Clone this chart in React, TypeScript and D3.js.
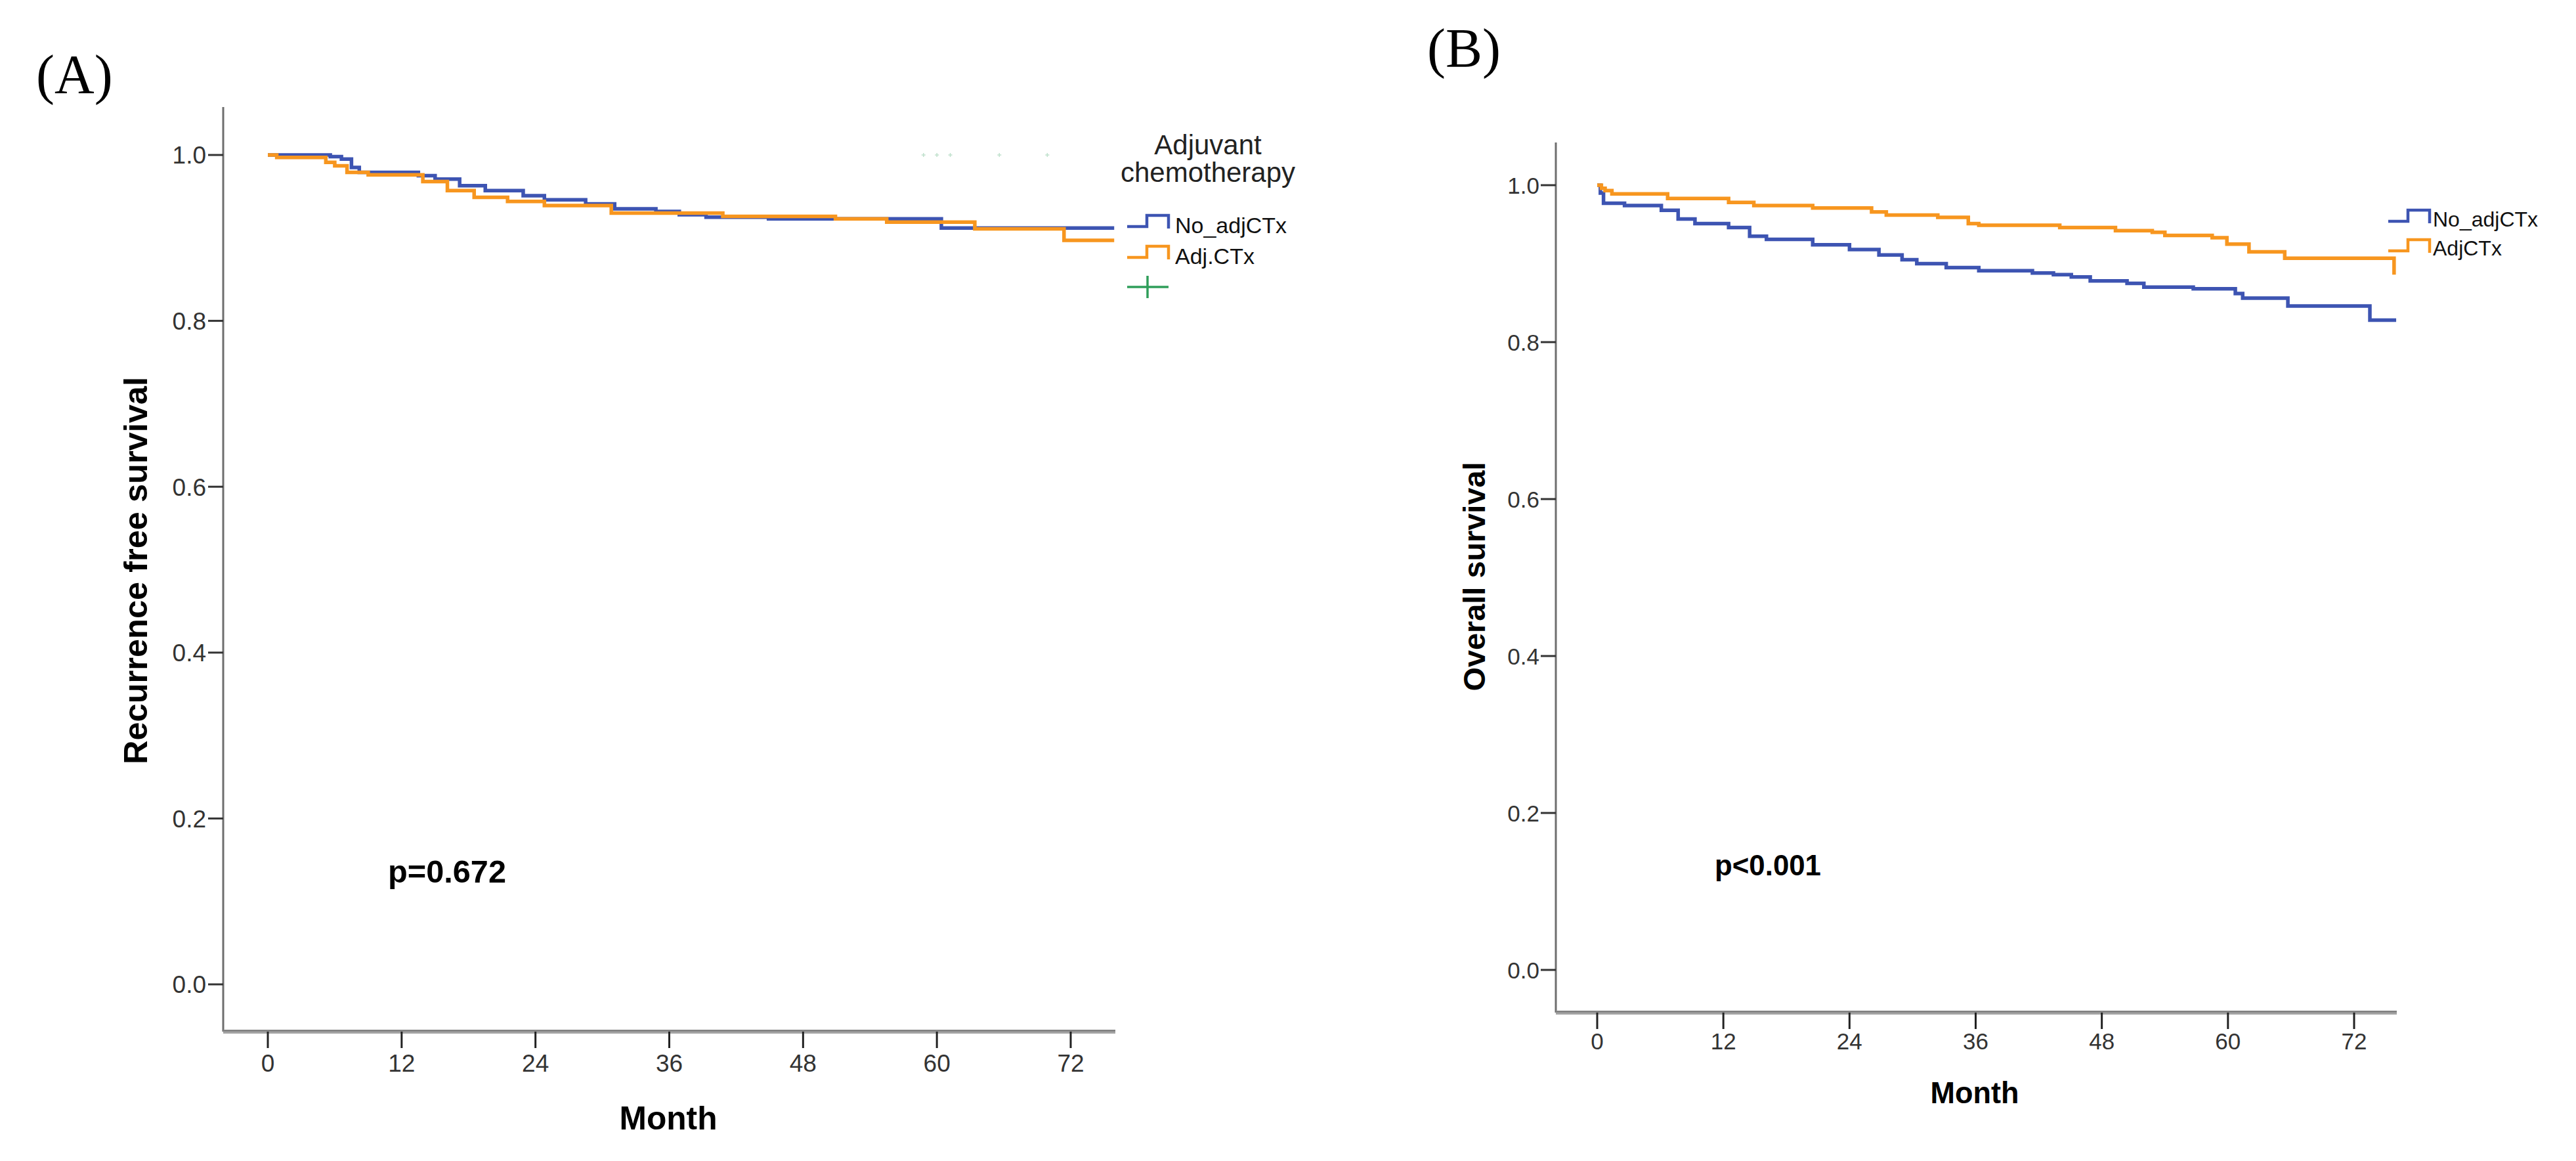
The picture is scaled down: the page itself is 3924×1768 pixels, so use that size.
import React from "react";
import * as d3 from "d3";

// ---------- data ----------
const monthTicks = [0, 12, 24, 36, 48, 60, 72];
const survTicks = [0, 0.2, 0.4, 0.6, 0.8, 1.0];
const groupLabelsA = ["No_adjCTx", "Adj.CTx"];
const groupLabelsB = ["No_adjCTx", "AdjCTx"];
const legendTitleA = ["Adjuvant", "chemotherapy"];

// Panel A: recurrence free survival, [month, survival] step points
const rfsNoAdj: [number, number][] = [
  [0, 1.0], [5.6, 0.998], [6.6, 0.995], [7.5, 0.985], [8.2, 0.979], [13.5, 0.975],
  [15.0, 0.971], [17.2, 0.963], [19.5, 0.957], [22.9, 0.951], [24.8, 0.946],
  [28.5, 0.941], [31.1, 0.935], [34.8, 0.932], [36.9, 0.928], [39.3, 0.925],
  [44.9, 0.923], [60.4, 0.912],
];
const rfsNoAdjEnd = 75.9;
const rfsAdj: [number, number][] = [
  [0, 1.0], [0.8, 0.997], [5.2, 0.991], [6.0, 0.987], [7.1, 0.979], [9.0, 0.976],
  [13.9, 0.968], [16.1, 0.957], [18.5, 0.949], [21.5, 0.944], [24.8, 0.939],
  [30.8, 0.93], [40.8, 0.926], [50.9, 0.923], [55.5, 0.919], [63.4, 0.911],
  [71.4, 0.897],
];
const rfsAdjEnd = 75.9;
const rfsCensorFaint = [58.8, 60.0, 61.2, 65.6, 69.9];

// Panel B: overall survival
const osNoAdj: [number, number][] = [
  [0, 1.0], [0.3, 0.99], [0.6, 0.977], [2.6, 0.974], [6.1, 0.968], [7.7, 0.957],
  [9.3, 0.951], [12.5, 0.946], [14.5, 0.935], [16.1, 0.931], [20.5, 0.924],
  [24.0, 0.918], [26.8, 0.911], [29.0, 0.905], [30.4, 0.9], [33.2, 0.895],
  [36.3, 0.891], [41.4, 0.888], [43.4, 0.886], [45.1, 0.883], [46.9, 0.878],
  [50.4, 0.875], [52.0, 0.87], [56.7, 0.868], [60.7, 0.862], [61.4, 0.856],
  [65.7, 0.846], [73.5, 0.828],
];
const osNoAdjEnd = 76.0;
const osAdj: [number, number][] = [
  [0, 1.0], [0.4, 0.996], [0.75, 0.993], [1.4, 0.989], [6.7, 0.983], [12.5, 0.978],
  [14.9, 0.974], [20.5, 0.971], [26.1, 0.966], [27.5, 0.962], [32.4, 0.959],
  [35.3, 0.951], [36.3, 0.949], [44.0, 0.946], [49.3, 0.942], [52.8, 0.94],
  [54.0, 0.936], [58.5, 0.933], [59.9, 0.925], [62.0, 0.915], [65.4, 0.907],
  [75.8, 0.886],
];
const osAdjEnd = 75.8;

// ---------- styles ----------
const BLUE = "#3d54b2";
const ORANGE = "#f7961f";
const GREEN = "#2f9e5a";
const SANS = "'Liberation Sans', Arial, Helvetica, sans-serif";
const SERIF = "'Liberation Serif', 'Times New Roman', serif";

function withEnd(pts: [number, number][], end: number): [number, number][] {
  const last = pts[pts.length - 1];
  return end > last[0] ? [...pts, [end, last[1]]] : pts;
}

type PanelProps = {
  x0: number; x72: number; y0: number; y1: number;
  axisTop: number; xAxisY: number; axisLeft: number; axisRight: number;
  tickFs: number; tickLen: number; xLabelBaseline: number; yLabelX: number;
  yTitle: string; yTitleX: number; yTitleY: number; yTitleFs: number; yTitleLen: number;
  monthX: number; monthY: number; monthFs: number; monthLen: number;
  pText: string; pX: number; pY: number; pFs: number; pLen: number;
  series: { pts: [number, number][]; end: number; color: string }[];
};

function Panel(p: PanelProps) {
  const x = d3.scaleLinear().domain([0, 72]).range([p.x0, p.x72]);
  const y = d3.scaleLinear().domain([0, 1]).range([p.y0, p.y1]);
  const line = d3
    .line<[number, number]>()
    .x((d) => x(d[0]))
    .y((d) => y(d[1]))
    .curve(d3.curveStepAfter);
  return (
    <g>
      {/* y axis */}
      <line x1={p.axisLeft} x2={p.axisLeft} y1={p.axisTop} y2={p.xAxisY} stroke="#6e6e6e" strokeWidth={3} />
      {survTicks.map((t) => (
        <g key={"y" + t}>
          <line x1={p.axisLeft - p.tickLen} x2={p.axisLeft} y1={y(t)} y2={y(t)} stroke="#333" strokeWidth={3} />
          <text x={p.yLabelX} y={y(t)} dy="0.36em" textAnchor="end" fontFamily={SANS} fontSize={p.tickFs} fill="#333">
            {t.toFixed(1)}
          </text>
        </g>
      ))}
      {/* x axis */}
      <line x1={p.axisLeft} x2={p.axisRight} y1={p.xAxisY} y2={p.xAxisY} stroke="#a3a3a3" strokeWidth={6} />
      <line x1={p.axisLeft} x2={p.axisRight} y1={p.xAxisY - 1.5} y2={p.xAxisY - 1.5} stroke="#7a7a7a" strokeWidth={2} />
      {monthTicks.map((t) => (
        <g key={"x" + t}>
          <line x1={x(t)} x2={x(t)} y1={p.xAxisY} y2={p.xAxisY + p.tickLen + 2} stroke="#222" strokeWidth={3} />
          <text x={x(t)} y={p.xLabelBaseline} textAnchor="middle" fontFamily={SANS} fontSize={p.tickFs} fill="#333">
            {t}
          </text>
        </g>
      ))}
      {/* titles */}
      <text
        transform={`translate(${p.yTitleX},${p.yTitleY}) rotate(-90)`}
        textAnchor="middle"
        fontFamily={SANS}
        fontWeight="bold"
        fontSize={p.yTitleFs}
        textLength={p.yTitleLen}
        lengthAdjust="spacingAndGlyphs"
        fill="#000"
      >
        {p.yTitle}
      </text>
      <text x={p.monthX} y={p.monthY} textAnchor="middle" fontFamily={SANS} fontWeight="bold" fontSize={p.monthFs}
        textLength={p.monthLen} lengthAdjust="spacingAndGlyphs" fill="#000">
        Month
      </text>
      <text x={p.pX} y={p.pY} fontFamily={SANS} fontWeight="bold" fontSize={p.pFs}
        textLength={p.pLen} lengthAdjust="spacingAndGlyphs" fill="#000">
        {p.pText}
      </text>
      {/* curves */}
      {p.series.map((s, i) => (
        <path key={i} d={line(withEnd(s.pts, s.end)) || ""} fill="none" stroke={s.color} strokeWidth={5.5} strokeLinecap="butt" strokeLinejoin="miter" />
      ))}
    </g>
  );
}

function LegendSymbol({ x, y, color }: { x: number; y: number; color: string }) {
  // y = baseline of low segment
  const d = `M${x},${y} H${x + 30} V${y - 17} H${x + 63} V${y + 3}`;
  return <path d={d} fill="none" stroke={color} strokeWidth={4.5} />;
}

export default function App() {
  const xA = d3.scaleLinear().domain([0, 72]).range([408, 1631]);
  const yA = d3.scaleLinear().domain([0, 1]).range([1499, 236]);
  return (
    <svg
      width={3924}
      height={1768}
      viewBox="0 0 3924 1768"
      style={{ position: "absolute", left: 0, top: 0, background: "#fff" }}
    >
      <rect x={0} y={0} width={3924} height={1768} fill="#fff" />
      {/* panel labels */}
      <text x={55} y={142} fontFamily={SERIF} fontSize={84} fill="#000">(A)</text>
      <text x={2174} y={102} fontFamily={SERIF} fontSize={84} fill="#000">(B)</text>

      <Panel
        x0={408} x72={1631} y0={1499} y1={236}
        axisTop={163} xAxisY={1571} axisLeft={340} axisRight={1699}
        tickFs={37} tickLen={23} xLabelBaseline={1632} yLabelX={314}
        yTitle="Recurrence free survival" yTitleX={224} yTitleY={869} yTitleFs={50} yTitleLen={590}
        monthX={1018} monthY={1720} monthFs={50} monthLen={149}
        pText="p=0.672" pX={591} pY={1344} pFs={49} pLen={180}
        series={[
          { pts: rfsNoAdj, end: rfsNoAdjEnd, color: BLUE },
          { pts: rfsAdj, end: rfsAdjEnd, color: ORANGE },
        ]}
      />
      {/* faint censor marks in panel A */}
      {rfsCensorFaint.map((t) => (
        <g key={"c" + t} opacity={0.3} stroke={GREEN} strokeWidth={1.5}>
          <line x1={xA(t) - 3} x2={xA(t) + 3} y1={yA(1)} y2={yA(1)} />
          <line x1={xA(t)} x2={xA(t)} y1={yA(1) - 3} y2={yA(1) + 3} />
        </g>
      ))}
      {/* legend A */}
      {legendTitleA.map((s, i) => (
        <text key={s} x={1840} y={235 + i * 42} textAnchor="middle" fontFamily={SANS} fontSize={42} fill="#222">
          {s}
        </text>
      ))}
      {groupLabelsA.map((s, i) => (
        <g key={s}>
          <LegendSymbol x={1717} y={345 + i * 47} color={i === 0 ? BLUE : ORANGE} />
          <text x={1790} y={355 + i * 47} fontFamily={SANS} fontSize={34} fill="#111">{s}</text>
        </g>
      ))}
      <g stroke={GREEN} strokeWidth={3.5}>
        <line x1={1717} x2={1780} y1={437} y2={437} />
        <line x1={1748} x2={1748} y1={420} y2={454} />
      </g>

      <Panel
        x0={2433} x72={3586} y0={1477} y1={282}
        axisTop={217} xAxisY={1542} axisLeft={2370} axisRight={3651}
        tickFs={35} tickLen={23} xLabelBaseline={1598} yLabelX={2345}
        yTitle="Overall survival" yTitleX={2262} yTitleY={878} yTitleFs={47} yTitleLen={349}
        monthX={3008} monthY={1680} monthFs={46} monthLen={135}
        pText="p<0.001" pX={2612} pY={1333} pFs={44} pLen={162}
        series={[
          { pts: osNoAdj, end: osNoAdjEnd, color: BLUE },
          { pts: osAdj, end: osAdjEnd, color: ORANGE },
        ]}
      />
      {/* legend B */}
      {groupLabelsB.map((s, i) => (
        <g key={s}>
          <LegendSymbol x={3638} y={337 + i * 45} color={i === 0 ? BLUE : ORANGE} />
          <text x={3706} y={345 + i * 44} fontFamily={SANS} fontSize={32} fill="#111">{s}</text>
        </g>
      ))}
    </svg>
  );
}
